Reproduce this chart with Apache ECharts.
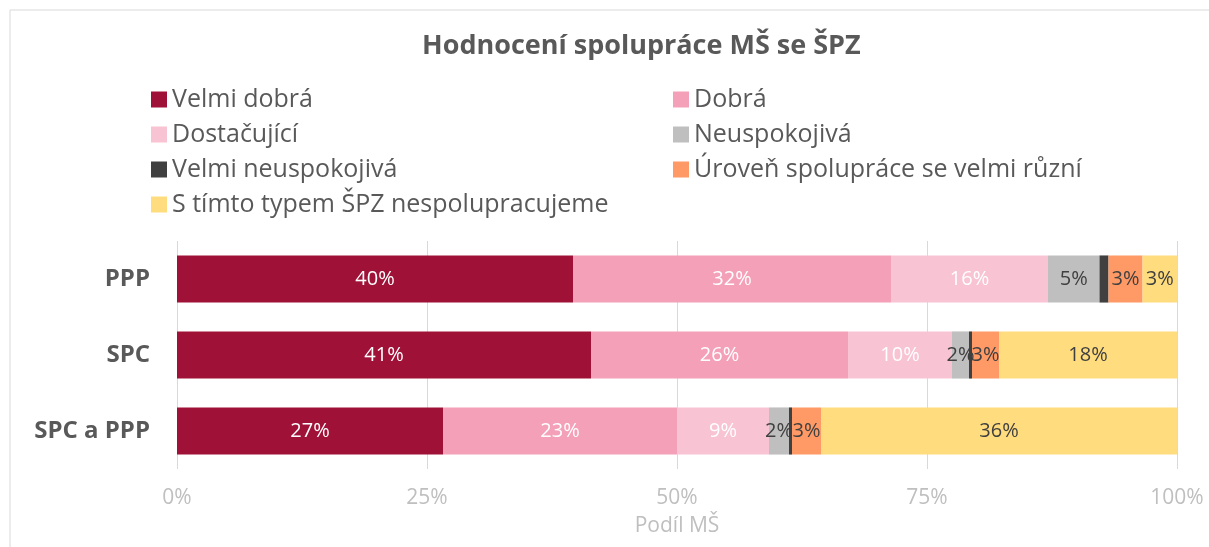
<!DOCTYPE html>
<html><head><meta charset="utf-8">
<script src="https://cdn.jsdelivr.net/npm/echarts@6/dist/echarts.min.js"></script>
<style>html,body{margin:0;padding:0;background:#fff}#c{width:1209px;height:547px}</style>
</head><body><div id="c"></div>
<script>
var categories = ['PPP', 'SPC', 'SPC a PPP'];
var seriesNames = ['Velmi dobrá', 'Dobrá', 'Dostačující', 'Neuspokojivá', 'Velmi neuspokojivá', 'Úroveň spolupráce se velmi různí', 'S tímto typem ŠPZ nespolupracujeme'];
var velmiDobra = [39.6, 41.4, 26.6];
var dobra = [31.8, 25.7, 23.4];
var dostacujici = [15.7, 10.4, 9.2];
var neuspokojiva = [5.15, 1.7, 2.0];
var velmiNeuspokojiva = [0.9, 0.3, 0.3];
var urovenRuzni = [3.4, 2.7, 2.9];
var nespolupracujeme = [3.45, 17.8, 35.6];
var xTicks = [0, 25, 50, 75, 100];

var values = [velmiDobra, dobra, dostacujici, neuspokojiva, velmiNeuspokojiva, urovenRuzni, nespolupracujeme];
var colors = ['#A01137', '#F4A0B8', '#F8C3D3', '#BFBFBF', '#404040', '#FF9966', '#FFDC7E'];
var labelColors = ['#FFFFFF', '#FFFFFF', '#FFFFFF', '#404040', '#404040', '#404040', '#404040'];
var FONT = '"Open Sans", sans-serif';

var chart = echarts.init(document.getElementById('c'));
var series = seriesNames.map(function (n, i) {
  return {
    name: n, type: 'bar', stack: 'all', barWidth: '62%',
    itemStyle: { color: colors[i] },
    label: {
      show: true, position: 'inside', color: labelColors[i], fontFamily: FONT, fontSize: 20,
      formatter: function (p) { return p.value < 1 ? '' : Math.round(p.value) + '%'; }
    },
    data: values[i]
  };
});
var legendText = { color: '#595959', fontSize: 25, lineHeight: 25, fontFamily: FONT };
chart.setOption({
  animation: false,
  title: {
    text: 'Hodnocení spolupráce MŠ se ŠPZ', left: 417, top: 28,
    textStyle: { color: '#595959', fontSize: 27, fontWeight: 'bold', fontFamily: FONT }
  },
  graphic: [{
    type: 'rect', shape: { x: 10, y: 10, width: 1230, height: 560 },
    style: { fill: 'none', stroke: '#D9D9D9', lineWidth: 1 }, silent: true
  }],
  legend: [{
    left: 146, top: 82, orient: 'vertical', itemGap: 10, itemWidth: 16, itemHeight: 16,
    icon: 'rect', textStyle: legendText,
    data: [seriesNames[0], seriesNames[2], seriesNames[4], seriesNames[6]]
  }, {
    left: 668, top: 82, orient: 'vertical', itemGap: 10, itemWidth: 16, itemHeight: 16,
    icon: 'rect', textStyle: legendText,
    data: [seriesNames[1], seriesNames[3], seriesNames[5]]
  }],
  grid: { left: 177, right: 32, top: 241, bottom: 78 },
  xAxis: {
    type: 'value', min: 0, max: 100, interval: 25,
    name: 'Podíl MŠ', nameLocation: 'middle', nameGap: 47,
    nameTextStyle: { color: '#BFBFBF', fontSize: 21, fontFamily: FONT },
    axisLine: { show: false }, axisTick: { show: false },
    splitLine: { show: true, lineStyle: { color: '#D9D9D9', width: 1 } },
    axisLabel: {
      color: '#BFBFBF', fontSize: 21, fontFamily: FONT, margin: 19,
      formatter: function (v) { return xTicks.indexOf(v) >= 0 ? v + '%' : ''; }
    }
  },
  yAxis: {
    type: 'category', data: categories, inverse: true,
    axisLine: { show: false }, axisTick: { show: false },
    axisLabel: { color: '#595959', fontSize: 24, fontWeight: 'bold', fontFamily: FONT, margin: 27 }
  },
  series: series
});
</script></body></html>
